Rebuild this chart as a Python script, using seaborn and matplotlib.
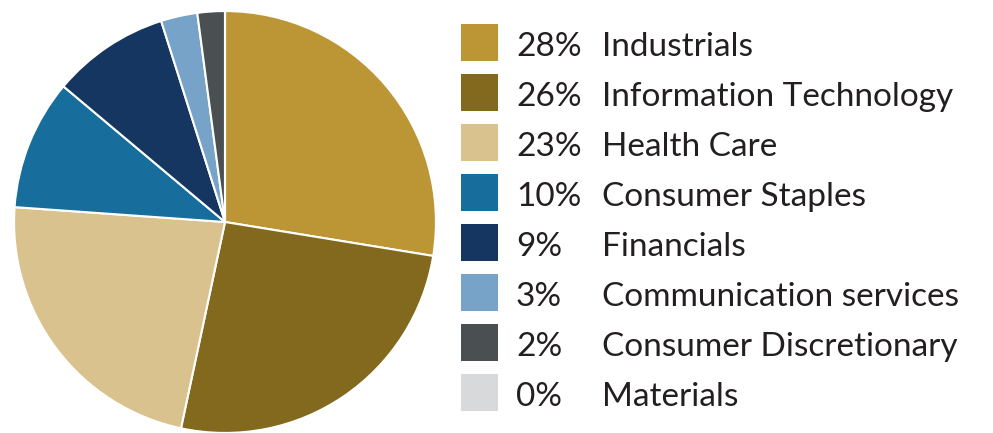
import matplotlib
matplotlib.use("Agg")
import matplotlib.pyplot as plt
import seaborn as sns
from matplotlib.patches import Rectangle

sns.set_theme(style="white")
plt.rcParams['font.family'] = ['Lato', 'DejaVu Sans']

sectors = ["Industrials", "Information Technology", "Health Care", "Consumer Staples",
           "Financials", "Communication services", "Consumer Discretionary", "Materials"]
values = [27.6, 25.8, 22.8, 10.0, 9.0, 2.8, 2.1, 0.0]
pct_labels = ["28%", "26%", "23%", "10%", "9%", "3%", "2%", "0%"]
colors = ["#bc9535", "#83691d", "#d9c28e", "#176d9c", "#143660", "#78a3c8", "#4a4f52", "#d8d9db"]

W, H = 993, 433
fig = plt.figure(figsize=(W / 100, H / 100), dpi=100)
cx, cy, r = 225, 222, 212
ax = fig.add_axes([(cx - r) / W, (H - cy - r) / H, 2 * r / W, 2 * r / H])
ax.pie(values, colors=colors, startangle=90, counterclock=False, radius=1,
       wedgeprops=dict(edgecolor="white", linewidth=1.5))
ax.set_xlim(-1.005, 1.005)
ax.set_ylim(-1.005, 1.005)
ax.set_aspect("equal")
ax.axis("off")

text_color = "#231f20"
for i, (lab, pct, col) in enumerate(zip(sectors, pct_labels, colors)):
    yc = 42.5 + 50 * i
    fig.patches.append(Rectangle((461 / W, (H - yc - 18.5) / H), 37 / W, 37 / H,
                                 transform=fig.transFigure, facecolor=col, edgecolor="none"))
    yb = (H - yc - 14) / H
    fig.text(516 / W, yb, pct, fontsize=24, color=text_color, va="baseline", ha="left")
    fig.text(602 / W, yb, lab, fontsize=24, color=text_color, va="baseline", ha="left")

fig.savefig("out.png", dpi=100)
